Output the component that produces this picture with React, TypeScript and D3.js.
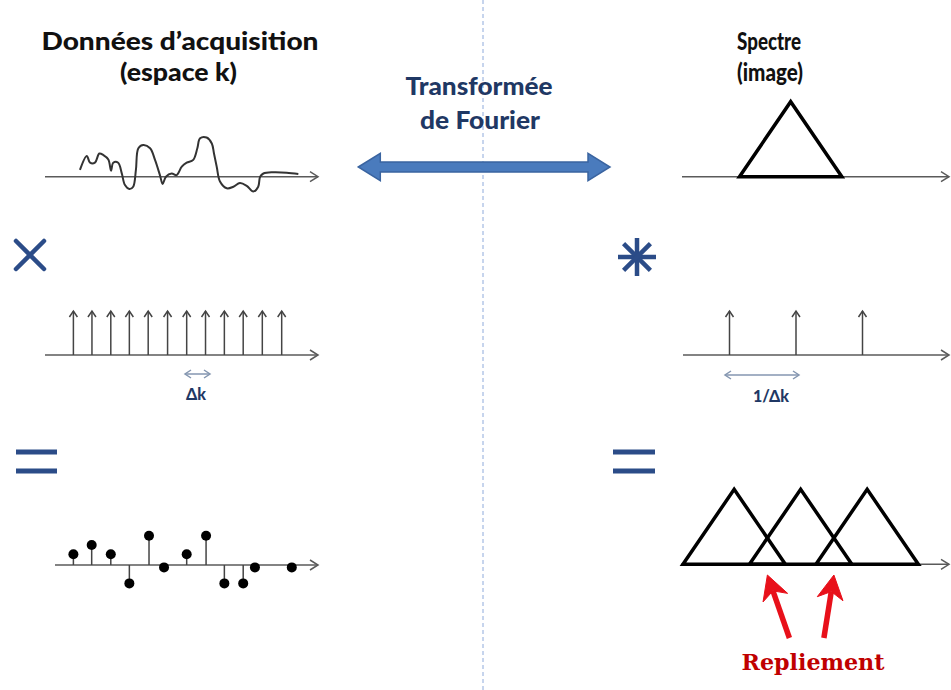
import * as d3 from 'd3';

// --- k-space (left) ---
// continuous acquisition signal: k position (0..100) and amplitude
const signalK = [12.8, 15.3, 16.5, 18.3, 19.9, 21.4, 23.2, 24.2, 25.0, 26.8, 28.1, 29.3, 30.9, 32.3, 33.3, 34.2, 36.0, 38.5, 40.3, 42.1, 43.1, 44.3, 46.4, 48.2, 50.1, 51.9, 54.3, 55.8, 56.8, 59.2, 61.1, 61.9, 62.9, 64.1, 66.6, 69.0, 71.4, 73.9, 76.3, 78.1, 78.8, 80.0, 83.6, 88.5, 92.8];
const signalAmp = [0.17, 0.52, 0.35, 0.35, 0.58, 0.54, 0.43, 0.15, 0.35, 0.35, 0.09, -0.21, -0.31, -0.25, 0.17, 0.71, 0.79, 0.71, 0.42, 0.04, -0.18, 0, 0.08, 0.04, 0.25, 0.35, 0.42, 0.71, 0.96, 0.98, 0.83, 0.58, 0.25, -0.12, -0.29, -0.25, -0.16, -0.23, -0.37, -0.25, 0, 0.08, 0.11, 0.1, 0.07];

// sampling comb (Dirac train)
const combK = [10.4, 17.2, 24.1, 30.9, 37.8, 44.9, 51.9, 58.8, 65.7, 72.6, 79.6, 86.7];

// sampled data
const sampleK = [10.4, 17.1, 24.1, 30.9, 38.1, 43.6, 51.9, 59.0, 65.7, 72.6, 76.9, 90.4];
const sampleAmp = [0.27, 0.5, 0.27, -0.46, 0.73, -0.06, 0.27, 0.73, -0.46, -0.46, -0.06, -0.06];

// --- image space (right), units of 1/Δk ---
const spectrumCenter = [1.92];
const combRight = [1, 2, 3];
const replicaCenters = [1.07, 2.07, 3.07];
const triHalfWidth = 0.77;
const triHeight = 1;

const leftTitle = ['Données d’acquisition', '(espace k)'];
const rightTitle = ['Spectre', '(image)'];
const middleTitle = ['Transformée', 'de Fourier'];

const navy = '#1f3864';
const blue = '#2b4c88';
const axisCol = '#5a5a5a';

const kx = d3.scaleLinear().domain([0, 100]).range([45, 318]);
const fx = d3.scaleLinear().domain([0, 1]).range([663, 729.5]);
const ampY = (base: number) => d3.scaleLinear().domain([-1, 1]).range([base + 40, base - 40]);
const combY = d3.scaleLinear().domain([0, 1]).range([355, 311]);
const triY = (base: number) => d3.scaleLinear().domain([0, 1]).range([base, base - 75]);

function Axis({ x1, x2, y }: { x1: number; x2: number; y: number }) {
  return (
    <g stroke={axisCol} strokeWidth={1.5} fill="none">
      <line x1={x1} x2={x2} y1={y} y2={y} />
      <path d={`M${x2 - 8},${y - 5}L${x2},${y}L${x2 - 8},${y + 5}`} />
    </g>
  );
}

function UpArrow({ x, y0, y1, col = '#444' }: { x: number; y0: number; y1: number; col?: string }) {
  return (
    <g stroke={col} strokeWidth={1.5} fill="none">
      <line x1={x} x2={x} y1={y0} y2={y1} />
      <path d={`M${x - 4},${y1 + 6}L${x},${y1}L${x + 4},${y1 + 6}`} />
    </g>
  );
}

function DoubleArrow({ x1, x2, y }: { x1: number; x2: number; y: number }) {
  return (
    <g stroke="#8496b0" strokeWidth={1.5} fill="none">
      <line x1={x1} x2={x2} y1={y} y2={y} />
      <path d={`M${x1 + 6},${y - 4}L${x1},${y}L${x1 + 6},${y + 4}`} />
      <path d={`M${x2 - 6},${y - 4}L${x2},${y}L${x2 - 6},${y + 4}`} />
    </g>
  );
}

function RedArrow({ tx, ty, sx, sy }: { tx: number; ty: number; sx: number; sy: number }) {
  const dx = tx - sx, dy = ty - sy;
  const len = Math.sqrt(dx * dx + dy * dy);
  const ux = dx / len, uy = dy / len;
  const px = -uy, py = ux;
  const hl = 24, hw = 13;
  const bx = tx - ux * hl, by = ty - uy * hl;
  const nx = tx - ux * hl * 0.7, ny = ty - uy * hl * 0.7;
  const head = `M${tx},${ty}L${bx + px * hw},${by + py * hw}L${nx},${ny}L${bx - px * hw},${by - py * hw}Z`;
  return (
    <g fill="#e8101a" stroke="#e8101a">
      <line x1={sx} y1={sy} x2={nx} y2={ny} strokeWidth={5.5} />
      <path d={head} strokeWidth={1} />
    </g>
  );
}

function triangle(c: number, base: number) {
  const y = triY(base);
  return `M${fx(c - triHalfWidth)},${y(0)}L${fx(c)},${y(triHeight)}L${fx(c + triHalfWidth)},${y(0)}Z`;
}

export default function App() {
  const W = 951, H = 690;
  const sigY = ampY(176.7);
  const signalLine = d3.line<number>()
    .x((d, i) => kx(signalK[i]))
    .y(d => sigY(d))
    .curve(d3.curveCatmullRom.alpha(0.5));

  const smpY = ampY(565);

  // folding zones: midpoints between neighbouring replicas
  const foldPts = d3.pairs(replicaCenters).map(([a, b]) => (a + b) / 2);
  const tailDx = [22, -10];

  const titleFont = 'Lato, "Open Sans", sans-serif';

  return (
    <svg width={W} height={H} style={{ position: 'absolute', left: 0, top: 0, background: '#fff' }}>
      {/* dashed separator */}
      <line x1={483} x2={483} y1={0} y2={H} stroke="#8eaadb" strokeWidth={1} strokeDasharray="4,3" />

      {/* titles */}
      <g fontFamily={titleFont} fontWeight={900} fill="#111" textAnchor="middle">
        <text x={180} y={50} fontSize={25} textLength={277} lengthAdjust="spacingAndGlyphs">{leftTitle[0]}</text>
        <text x={178.5} y={81} fontSize={25} textLength={117} lengthAdjust="spacingAndGlyphs">{leftTitle[1]}</text>
        <text x={769} y={50} fontSize={25} textLength={64} lengthAdjust="spacingAndGlyphs">{rightTitle[0]}</text>
        <text x={770} y={81} fontSize={25} textLength={66} lengthAdjust="spacingAndGlyphs">{rightTitle[1]}</text>
      </g>
      <g fontFamily={titleFont} fontWeight={900} fill={navy} textAnchor="middle">
        <text x={479} y={95} fontSize={24} textLength={147} lengthAdjust="spacingAndGlyphs">{middleTitle[0]}</text>
        <text x={480} y={129} fontSize={24} textLength={120} lengthAdjust="spacingAndGlyphs">{middleTitle[1]}</text>
      </g>

      {/* Fourier double arrow */}
      <path
        d="M358.3,167L380.3,153.3L380.3,162L588,162L588,153.3L610,167L588,180.7L588,172L380.3,172L380.3,180.7Z"
        fill="#4a7bbd" stroke="#3a64a0" strokeWidth={1.5}
      />

      {/* left: signal */}
      <Axis x1={45} x2={318} y={176.7} />
      <path d={signalLine(signalAmp) || ''} fill="none" stroke="#333" strokeWidth={2} />

      {/* multiply sign */}
      <g stroke={blue} strokeWidth={4.5} strokeLinecap="round">
        <line x1={16} y1={241} x2={44} y2={269} />
        <line x1={44} y1={241} x2={16} y2={269} />
      </g>

      {/* left: sampling comb */}
      <Axis x1={45} x2={318} y={355} />
      {combK.map((k, i) => (
        <UpArrow key={i} x={kx(k)} y0={combY(0)} y1={combY(1)} />
      ))}
      <DoubleArrow x1={185} x2={210} y={374} />
      <text x={196} y={400} fontFamily={titleFont} fontWeight={900} fontSize={16} fill={navy} textAnchor="middle">Δk</text>

      {/* equals */}
      <g stroke={blue} strokeWidth={5}>
        <line x1={16} x2={57} y1={452} y2={452} />
        <line x1={16} x2={57} y1={471} y2={471} />
        <line x1={613} x2={655} y1={452} y2={452} />
        <line x1={613} x2={655} y1={471} y2={471} />
      </g>

      {/* left: sampled data */}
      <Axis x1={55} x2={318} y={565} />
      {sampleK.map((k, i) => (
        <g key={i}>
          <line x1={kx(k)} x2={kx(k)} y1={smpY(0)} y2={smpY(sampleAmp[i])} stroke="#444" strokeWidth={1.5} />
          <circle cx={kx(k)} cy={smpY(sampleAmp[i])} r={5} fill="#000" />
        </g>
      ))}

      {/* right: spectrum */}
      <Axis x1={682} x2={949} y={176.7} />
      {spectrumCenter.map((c, i) => (
        <path key={i} d={triangle(c, 176.7)} fill="none" stroke="#000" strokeWidth={3.5} strokeLinejoin="miter" />
      ))}

      {/* convolution star */}
      <g stroke={blue} strokeWidth={4.5} strokeLinecap="butt">
        {[0, 45, 90, 135].map(a => {
          const r = 19, t = (a * Math.PI) / 180;
          return <line key={a} x1={637 - r * Math.cos(t)} y1={257 - r * Math.sin(t)} x2={637 + r * Math.cos(t)} y2={257 + r * Math.sin(t)} />;
        })}
      </g>

      {/* right: comb */}
      <Axis x1={683} x2={949} y={355} />
      {combRight.map((c, i) => (
        <UpArrow key={i} x={fx(c)} y0={combY(0)} y1={combY(1)} />
      ))}
      <DoubleArrow x1={725} x2={799} y={375} />
      <text x={771} y={402} fontFamily={titleFont} fontWeight={900} fontSize={16} fill={navy} textAnchor="middle">1/Δk</text>

      {/* right: aliased spectrum */}
      <Axis x1={681} x2={949} y={564.3} />
      {replicaCenters.map((c, i) => (
        <path key={i} d={triangle(c, 564.3)} fill="none" stroke="#000" strokeWidth={3.5} />
      ))}

      {foldPts.map((p, i) => (
        <RedArrow key={i} tx={fx(p)} ty={575} sx={fx(p) + tailDx[i]} sy={638} />
      ))}
      <text x={813} y={670} fontFamily='"DejaVu Serif", "Liberation Serif", serif' fontWeight={700} fontSize={22}
        fill="#c00000" textAnchor="middle" textLength={143} lengthAdjust="spacingAndGlyphs">Repliement</text>
    </svg>
  );
}
